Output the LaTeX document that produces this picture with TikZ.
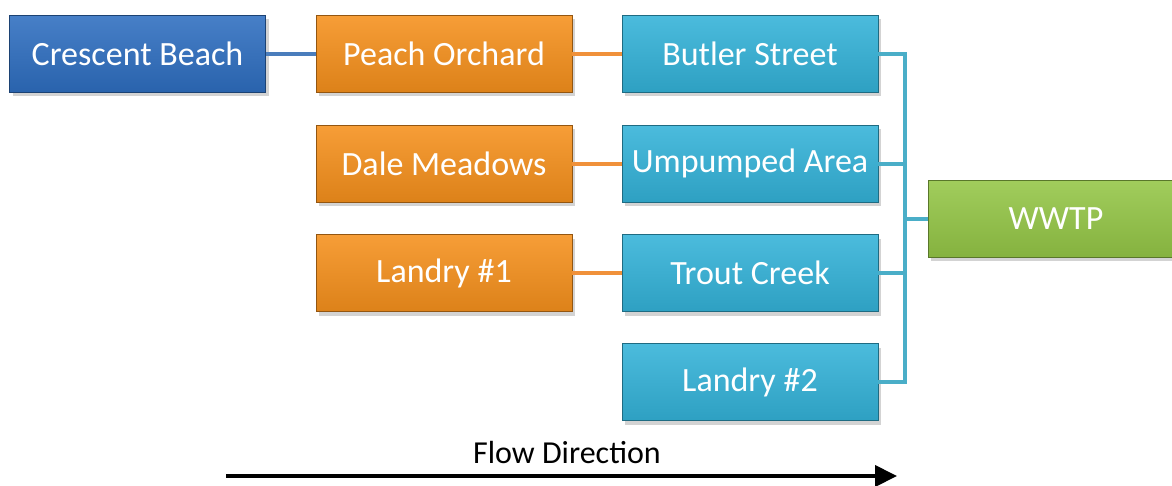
\documentclass[tikz,border=0pt]{standalone}
\usepackage{fontspec}
\setmainfont{Carlito}
\usetikzlibrary{shadows,arrows.meta}

\definecolor{cbBlue}{HTML}{2E6EC0}
\definecolor{poOrange}{HTML}{F5901C}
\definecolor{psTeal}{HTML}{33B2D8}
\definecolor{plGreen}{HTML}{94C646}
\definecolor{lnBlue}{HTML}{4A7DBC}
\definecolor{lnOrange}{HTML}{F0913A}
\definecolor{lnTeal}{HTML}{4AAEC8}

\tikzset{
  stage/.style={rectangle, minimum width=256pt, minimum height=77pt,
    inner sep=0pt, text=white, font=\fontsize{34}{40}\selectfont,
    draw=#1!60!black, line width=0.8pt,
    top color=#1!88!white, bottom color=#1!90!black,
    drop shadow={opacity=0.35, shadow xshift=3pt, shadow yshift=-4pt}},
  pipe/.style={line width=4pt, draw=#1, line join=miter},
}

\begin{document}
\begin{tikzpicture}[x=1pt, y=-1pt]
  \useasboundingbox (0,0) rectangle (1172,485);

  % pumping stations
  \node[stage=cbBlue]   (cb) at (137.5,53.5) {Crescent Beach};
  \node[stage=poOrange] (po) at (444,53.5)   {Peach Orchard};
  \node[stage=psTeal]   (bs) at (750,53.5)   {Butler Street};
  \node[stage=poOrange] (dm) at (444,163.5)  {Dale Meadows};
  \node[stage=psTeal]   (ua) at (750,163.5)  {Umpumped Area};
  \node[stage=poOrange] (l1) at (444,273)    {Landry \#1};
  \node[stage=psTeal]   (tc) at (750,273)    {Trout Creek};
  \node[stage=psTeal]   (l2) at (750,382)    {Landry \#2};
  \node[stage=plGreen]  (ww) at (1056,218.5) {WWTP};

  % force mains between stations
  \draw[pipe=lnBlue]   (cb.east) -- (po.west);
  \draw[pipe=lnOrange] (po.east) -- (bs.west);
  \draw[pipe=lnOrange] (dm.east) -- (ua.west);
  \draw[pipe=lnOrange] (l1.east) -- (tc.west);

  % collector header to the treatment plant
  \coordinate (busTop) at (905,53.5);
  \coordinate (busBot) at (905,382);
  \draw[pipe=lnTeal] (bs.east) -- (busTop) -- (busBot) -- (l2.east);
  \draw[pipe=lnTeal] (ua.east) -- (ua.east -| busTop);
  \draw[pipe=lnTeal] (tc.east) -- (tc.east -| busTop);
  \draw[pipe=lnTeal] (ww.west -| busTop) -- (ww.west);

  % flow direction indicator
  \node[font=\fontsize{32}{38}\selectfont] (flow) at (567,452) {Flow Direction};
  \coordinate (arrS) at (226,476);
  \coordinate (arrE) at (897,476);
  \draw[line width=4pt, -{Triangle[length=22pt,width=21pt]}] (arrS) -- (arrE);
\end{tikzpicture}
\end{document}
